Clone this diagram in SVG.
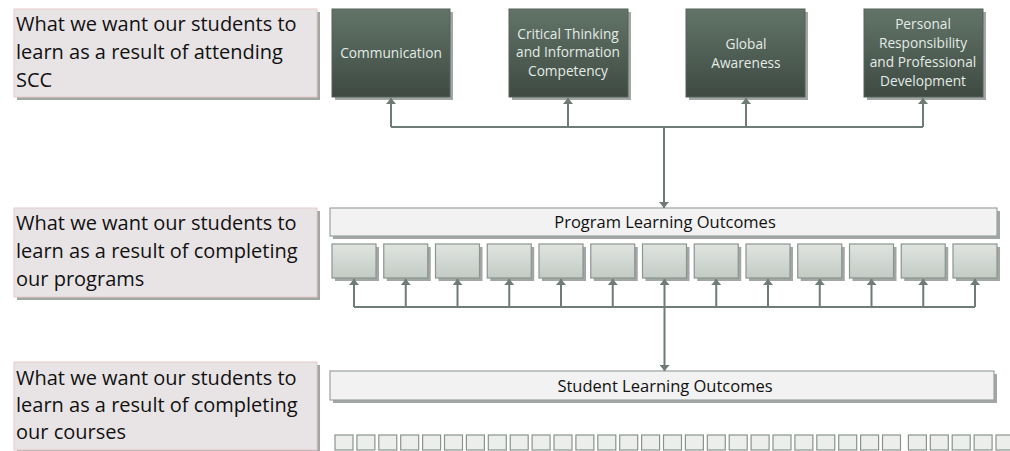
<svg xmlns="http://www.w3.org/2000/svg" width="1010" height="451" viewBox="0 0 1010 451">
<style>
.lbl{fill:#e8e4e6;stroke:#e6caca;stroke-width:1}
.shd{fill:#a2a6a4}
.lt{font-family:"Open Sans","Liberation Sans",sans-serif;font-size:20px;fill:#111}
.dk{fill:url(#gDark);stroke:#55625a;stroke-width:1}
.dt{font-family:"Open Sans","Liberation Sans",sans-serif;font-size:13.7px;fill:#e4ebe6;text-anchor:middle}
.bar{fill:#f2f2f2;stroke:#9aa39e;stroke-width:1.2}
.bt{font-family:"Open Sans","Liberation Sans",sans-serif;font-size:16.5px;fill:#111;text-anchor:middle}
.sq{fill:url(#gSq);stroke:#8a968f;stroke-width:1.2}
.ss{fill:#eceeec;stroke:#8a948e;stroke-width:1.2}
.cn{fill:none;stroke:#6f7c75;stroke-width:2}
</style>
<defs>
<linearGradient id="gDark" x1="0" y1="0" x2="0" y2="1">
<stop offset="0" stop-color="#627468"/>
<stop offset="1" stop-color="#3e4a42"/>
</linearGradient>
<linearGradient id="gSq" x1="0" y1="0" x2="0" y2="1">
<stop offset="0" stop-color="#e0e4e0"/>
<stop offset="1" stop-color="#c3cbc5"/>
</linearGradient>
<marker id="ah" viewBox="0 0 6 10" refX="6" refY="5" markerWidth="6" markerHeight="10" markerUnits="userSpaceOnUse" orient="auto">
<path d="M0,0 L6,5 L0,10 z" fill="#6f7c75"/>
</marker>
</defs>
<rect width="1010" height="451" fill="#ffffff"/>

<g id="label-scc">
<rect class="shd" x="17" y="12" width="303" height="88"/>
<rect class="lbl" x="14" y="9" width="303" height="88"/>
<text class="lt" x="16" y="31">What we want our students to</text>
<text class="lt" x="16" y="59">learn as a result of attending</text>
<text class="lt" x="16" y="87">SCC</text>
</g>
<g id="label-programs">
<rect class="shd" x="17" y="211" width="303" height="89"/>
<rect class="lbl" x="14" y="208" width="303" height="89"/>
<text class="lt" x="16" y="230">What we want our students to</text>
<text class="lt" x="16" y="258">learn as a result of completing</text>
<text class="lt" x="16" y="286">our programs</text>
</g>
<g id="label-courses">
<rect class="shd" x="17" y="365" width="303" height="88"/>
<rect class="lbl" x="14" y="362" width="303" height="88"/>
<text class="lt" x="16" y="385">What we want our students to</text>
<text class="lt" x="16" y="412">learn as a result of completing</text>
<text class="lt" x="16" y="439">our courses</text>
</g>

<g id="node-communication">
<rect class="shd" x="335" y="12" width="118" height="88"/>
<rect class="dk" x="332" y="9" width="118" height="88"/>
<text class="dt" x="391" y="58">Communication</text>
</g>
<g id="node-critical-thinking">
<rect class="shd" x="512" y="12" width="119" height="88"/>
<rect class="dk" x="509" y="9" width="119" height="88"/>
<text class="dt" x="568" y="39">Critical Thinking</text>
<text class="dt" x="568" y="57">and Information</text>
<text class="dt" x="568" y="76">Competency</text>
</g>
<g id="node-global-awareness">
<rect class="shd" x="689" y="12" width="119" height="88"/>
<rect class="dk" x="686" y="9" width="119" height="88"/>
<text class="dt" x="746" y="49">Global</text>
<text class="dt" x="746" y="68">Awareness</text>
</g>
<g id="node-personal-responsibility">
<rect class="shd" x="867" y="12" width="119" height="88"/>
<rect class="dk" x="864" y="9" width="119" height="88"/>
<text class="dt" x="923" y="29">Personal</text>
<text class="dt" x="923" y="48">Responsibility</text>
<text class="dt" x="923" y="67">and Professional</text>
<text class="dt" x="923" y="86">Development</text>
</g>

<g id="node-program-outcomes">
<rect class="shd" x="333" y="211" width="667" height="28"/>
<rect class="bar" x="330" y="208" width="667" height="28"/>
<text class="bt" x="665" y="228">Program Learning Outcomes</text>
</g>
<g id="node-program-squares">
<rect class="shd" x="335" y="247" width="44" height="34"/><rect class="sq" x="332" y="244" width="44" height="34"/>
<rect class="shd" x="386.75" y="247" width="44" height="34"/><rect class="sq" x="383.75" y="244" width="44" height="34"/>
<rect class="shd" x="438.5" y="247" width="44" height="34"/><rect class="sq" x="435.5" y="244" width="44" height="34"/>
<rect class="shd" x="490.25" y="247" width="44" height="34"/><rect class="sq" x="487.25" y="244" width="44" height="34"/>
<rect class="shd" x="542" y="247" width="44" height="34"/><rect class="sq" x="539" y="244" width="44" height="34"/>
<rect class="shd" x="593.75" y="247" width="44" height="34"/><rect class="sq" x="590.75" y="244" width="44" height="34"/>
<rect class="shd" x="645.5" y="247" width="44" height="34"/><rect class="sq" x="642.5" y="244" width="44" height="34"/>
<rect class="shd" x="697.25" y="247" width="44" height="34"/><rect class="sq" x="694.25" y="244" width="44" height="34"/>
<rect class="shd" x="749" y="247" width="44" height="34"/><rect class="sq" x="746" y="244" width="44" height="34"/>
<rect class="shd" x="800.75" y="247" width="44" height="34"/><rect class="sq" x="797.75" y="244" width="44" height="34"/>
<rect class="shd" x="852.5" y="247" width="44" height="34"/><rect class="sq" x="849.5" y="244" width="44" height="34"/>
<rect class="shd" x="904.25" y="247" width="44" height="34"/><rect class="sq" x="901.25" y="244" width="44" height="34"/>
<rect class="shd" x="956" y="247" width="44" height="34"/><rect class="sq" x="953" y="244" width="44" height="34"/>
</g>

<g id="node-student-outcomes">
<rect class="shd" x="333" y="374" width="664" height="29"/>
<rect class="bar" x="330" y="371" width="664" height="29"/>
<text class="bt" x="665" y="392">Student Learning Outcomes</text>
</g>
<g id="node-course-squares">
<rect class="ss" x="335" y="435" width="18" height="15"/>
<rect class="ss" x="356.9" y="435" width="18" height="15"/>
<rect class="ss" x="378.8" y="435" width="18" height="15"/>
<rect class="ss" x="400.7" y="435" width="18" height="15"/>
<rect class="ss" x="422.6" y="435" width="18" height="15"/>
<rect class="ss" x="444.5" y="435" width="18" height="15"/>
<rect class="ss" x="466.4" y="435" width="18" height="15"/>
<rect class="ss" x="488.3" y="435" width="18" height="15"/>
<rect class="ss" x="510.2" y="435" width="18" height="15"/>
<rect class="ss" x="532.1" y="435" width="18" height="15"/>
<rect class="ss" x="554" y="435" width="18" height="15"/>
<rect class="ss" x="575.9" y="435" width="18" height="15"/>
<rect class="ss" x="597.8" y="435" width="18" height="15"/>
<rect class="ss" x="619.7" y="435" width="18" height="15"/>
<rect class="ss" x="641.6" y="435" width="18" height="15"/>
<rect class="ss" x="663.5" y="435" width="18" height="15"/>
<rect class="ss" x="685.4" y="435" width="18" height="15"/>
<rect class="ss" x="707.3" y="435" width="18" height="15"/>
<rect class="ss" x="729.2" y="435" width="18" height="15"/>
<rect class="ss" x="751.1" y="435" width="18" height="15"/>
<rect class="ss" x="773" y="435" width="18" height="15"/>
<rect class="ss" x="794.9" y="435" width="18" height="15"/>
<rect class="ss" x="816.8" y="435" width="18" height="15"/>
<rect class="ss" x="838.7" y="435" width="18" height="15"/>
<rect class="ss" x="860.6" y="435" width="18" height="15"/>
<rect class="ss" x="882.5" y="435" width="18" height="15"/>
<rect class="ss" x="908.4" y="435" width="18" height="15"/>
<rect class="ss" x="930.3" y="435" width="18" height="15"/>
<rect class="ss" x="952.2" y="435" width="18" height="15"/>
<rect class="ss" x="974.1" y="435" width="18" height="15"/>
<rect class="ss" x="996" y="435" width="18" height="15"/>
</g>

<g id="connectors">
<path class="cn" d="M391,127 H923"/>
<path class="cn" d="M391,127 V98" marker-end="url(#ah)"/>
<path class="cn" d="M568,127 V98" marker-end="url(#ah)"/>
<path class="cn" d="M746,127 V98" marker-end="url(#ah)"/>
<path class="cn" d="M923,127 V98" marker-end="url(#ah)"/>
<path class="cn" d="M664,127 V208" marker-end="url(#ah)"/>
<path class="cn" d="M354,307 H975"/>
<path class="cn" d="M354,307 V279" marker-end="url(#ah)"/>
<path class="cn" d="M405.75,307 V279" marker-end="url(#ah)"/>
<path class="cn" d="M457.5,307 V279" marker-end="url(#ah)"/>
<path class="cn" d="M509.25,307 V279" marker-end="url(#ah)"/>
<path class="cn" d="M561,307 V279" marker-end="url(#ah)"/>
<path class="cn" d="M612.75,307 V279" marker-end="url(#ah)"/>
<path class="cn" d="M664.5,307 V279" marker-end="url(#ah)"/>
<path class="cn" d="M716.25,307 V279" marker-end="url(#ah)"/>
<path class="cn" d="M768,307 V279" marker-end="url(#ah)"/>
<path class="cn" d="M819.75,307 V279" marker-end="url(#ah)"/>
<path class="cn" d="M871.5,307 V279" marker-end="url(#ah)"/>
<path class="cn" d="M923.25,307 V279" marker-end="url(#ah)"/>
<path class="cn" d="M975,307 V279" marker-end="url(#ah)"/>
<path class="cn" d="M664.5,307 V371" marker-end="url(#ah)"/>
</g>
</svg>
